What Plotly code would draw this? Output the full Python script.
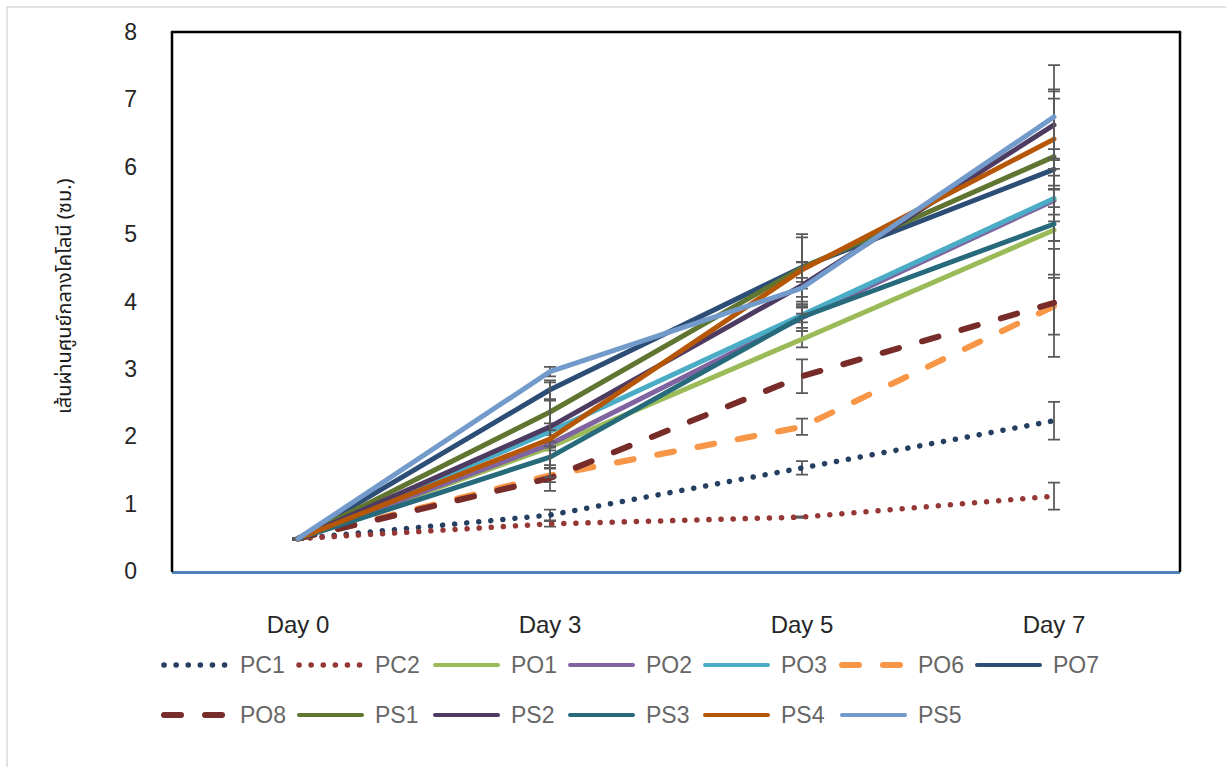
import plotly.graph_objects as go

# ---------------- data ----------------
days = ["Day 0", "Day 3", "Day 5", "Day 7"]
series_names = ["PC1", "PC2", "PO1", "PO2", "PO3", "PO6", "PO7",
                "PO8", "PS1", "PS2", "PS3", "PS4", "PS5"]

PC1 = [0.48, 0.83, 1.53, 2.23]
PC2 = [0.48, 0.70, 0.80, 1.11]
PO1 = [0.48, 1.84, 3.44, 5.06]
PO2 = [0.48, 1.88, 3.76, 5.50]
PO3 = [0.48, 2.07, 3.80, 5.53]
PO6 = [0.48, 1.42, 2.14, 3.93]
PO7 = [0.48, 2.69, 4.51, 5.96]
PO8 = [0.48, 1.38, 2.89, 3.98]
PS1 = [0.48, 2.36, 4.50, 6.15]
PS2 = [0.48, 2.14, 4.24, 6.62]
PS3 = [0.48, 1.69, 3.77, 5.15]
PS4 = [0.48, 1.96, 4.47, 6.41]
PS5 = [0.48, 2.96, 4.20, 6.74]

PC1_err = [0.01, 0.08, 0.10, 0.28]
PC2_err = [0.01, 0.04, 0.01, 0.20]
PO1_err = [0.01, 0.05, 0.12, 0.66]
PO2_err = [0.01, 0.05, 0.20, 0.60]
PO3_err = [0.01, 0.05, 0.11, 0.34]
PO6_err = [0.01, 0.10, 0.12, 0.42]
PO7_err = [0.01, 0.14, 0.44, 0.30]
PO8_err = [0.01, 0.19, 0.25, 0.80]
PS1_err = [0.01, 0.44, 0.50, 0.86]
PS2_err = [0.01, 0.05, 0.05, 0.50]
PS3_err = [0.01, 0.16, 0.16, 0.25]
PS4_err = [0.01, 0.57, 0.12, 0.74]
PS5_err = [0.01, 0.07, 0.38, 0.77]

y_ticks = [0, 1, 2, 3, 4, 5, 6, 7, 8]
y_title = "เส้นผ่านศูนย์กลางโคโลนี (ซม.)"

values = {"PC1": PC1, "PC2": PC2, "PO1": PO1, "PO2": PO2, "PO3": PO3,
          "PO6": PO6, "PO7": PO7, "PO8": PO8, "PS1": PS1, "PS2": PS2,
          "PS3": PS3, "PS4": PS4, "PS5": PS5}
errors = {"PC1": PC1_err, "PC2": PC2_err, "PO1": PO1_err, "PO2": PO2_err,
          "PO3": PO3_err, "PO6": PO6_err, "PO7": PO7_err, "PO8": PO8_err,
          "PS1": PS1_err, "PS2": PS2_err, "PS3": PS3_err, "PS4": PS4_err,
          "PS5": PS5_err}

# ---------------- styles ----------------
DOT = "0.1px,12px"
DASH = "17px,24px"
styles = {
    "PC1": ("#243F60", DOT, 5.5),
    "PC2": ("#953735", DOT, 5.5),
    "PO1": ("#9BBB59", "solid", 5),
    "PO2": ("#8064A2", "solid", 5),
    "PO3": ("#4BACC6", "solid", 5),
    "PO6": ("#F79646", DASH, 6),
    "PO7": ("#2C4D75", "solid", 5),
    "PO8": ("#772C2A", DASH, 6),
    "PS1": ("#5F7530", "solid", 5),
    "PS2": ("#4D3B62", "solid", 5),
    "PS3": ("#276A7C", "solid", 5),
    "PS4": ("#B65708", "solid", 5),
    "PS5": ("#729ACA", "solid", 5),
}

W, H = 1226, 767
L, R, T, B = 172, 1180, 32, 571  # plot area in pixels


def px_x(x):
    return (x - L) / (R - L)


def px_y(y):
    return (B - y) / (B - T)


fig = go.Figure()
for name in series_names:
    color, dash, width = styles[name]
    fig.add_trace(go.Scatter(
        x=days, y=values[name], name=name, mode="lines",
        line=dict(color=color, dash=dash, width=width),
        error_y=dict(type="data", array=errors[name], visible=True,
                     color="#595959", thickness=1.75, width=6),
        showlegend=False, hoverinfo="skip",
    ))

shapes = []
# plot frame (left, top, right) in black
shapes.append(dict(type="line", xref="paper", yref="paper", x0=0, x1=0, y0=0, y1=1,
                   line=dict(color="black", width=2.5)))
shapes.append(dict(type="line", xref="paper", yref="paper", x0=0, x1=1, y0=1, y1=1,
                   line=dict(color="black", width=2.5)))
shapes.append(dict(type="line", xref="paper", yref="paper", x0=1, x1=1, y0=0, y1=1,
                   line=dict(color="black", width=2.5)))
# outer chart frame (light gray)
shapes.append(dict(type="line", xref="paper", yref="paper", x0=px_x(7), x1=px_x(7),
                   y0=px_y(7), y1=px_y(H + 5), line=dict(color="#D9D9D9", width=1.5)))
shapes.append(dict(type="line", xref="paper", yref="paper", x0=px_x(7), x1=px_x(W + 5),
                   y0=px_y(7), y1=px_y(7), line=dict(color="#D9D9D9", width=1.5)))

annotations = []
# manual legend
col_x = [162, 297, 433, 568, 703, 840, 975]
row_y = [665, 715]
for i, name in enumerate(series_names):
    r, c = divmod(i, 7)
    x0 = col_x[c]
    y0 = row_y[r]
    color, dash, width = styles[name]
    lw = 4 if dash == "solid" else width
    shapes.append(dict(type="line", xref="paper", yref="paper",
                       x0=px_x(x0 + 2), x1=px_x(x0 + 65), y0=px_y(y0), y1=px_y(y0),
                       line=dict(color=color, dash=dash, width=lw)))
    annotations.append(dict(xref="paper", yref="paper", x=px_x(x0 + 76), y=px_y(y0),
                            text=name, showarrow=False, xanchor="left", yanchor="middle",
                            font=dict(family="Liberation Sans, Arial", size=23, color="#666666")))

annotations.append(dict(xref="paper", yref="paper", x=px_x(65), y=px_y(296),
                        text=y_title, textangle=-90, showarrow=False,
                        xanchor="center", yanchor="middle",
                        font=dict(family="Noto Sans Thai, Tahoma, sans-serif", size=20, color="#1a1a1a")))

fig.update_layout(
    width=W, height=H,
    margin=dict(l=L, r=W - R, t=T, b=H - B, pad=0),
    paper_bgcolor="white", plot_bgcolor="white",
    showlegend=False,
    shapes=shapes, annotations=annotations,
    xaxis=dict(type="category", categoryorder="array", categoryarray=days,
               range=[-0.5, 3.5], showgrid=False, zeroline=False,
               showline=True, linecolor="#4F81BD", linewidth=2.5,
               ticks="", ticklabelstandoff=30,
               tickfont=dict(family="Liberation Sans, Arial", size=24, color="#262626")),
    yaxis=dict(range=[0, 8], tickvals=y_ticks, showgrid=False, zeroline=False,
               showline=False, ticks="", ticklabelstandoff=34,
               tickfont=dict(family="Liberation Sans, Arial", size=23, color="#262626")),
)

post = """
document.body.style.margin = '0';
document.body.style.padding = '0';
var gd = document.getElementById('{plot_id}');
function rc(){
  gd.querySelectorAll('.scatterlayer .js-line, .shapelayer path').forEach(function(p){
    p.style.strokeLinecap = 'round'; p.style.strokeLinejoin = 'round';
  });
}
rc();
gd.on('plotly_afterplot', rc);
"""

fig.write_html("out.html", post_script=post, config={"displayModeBar": False})
